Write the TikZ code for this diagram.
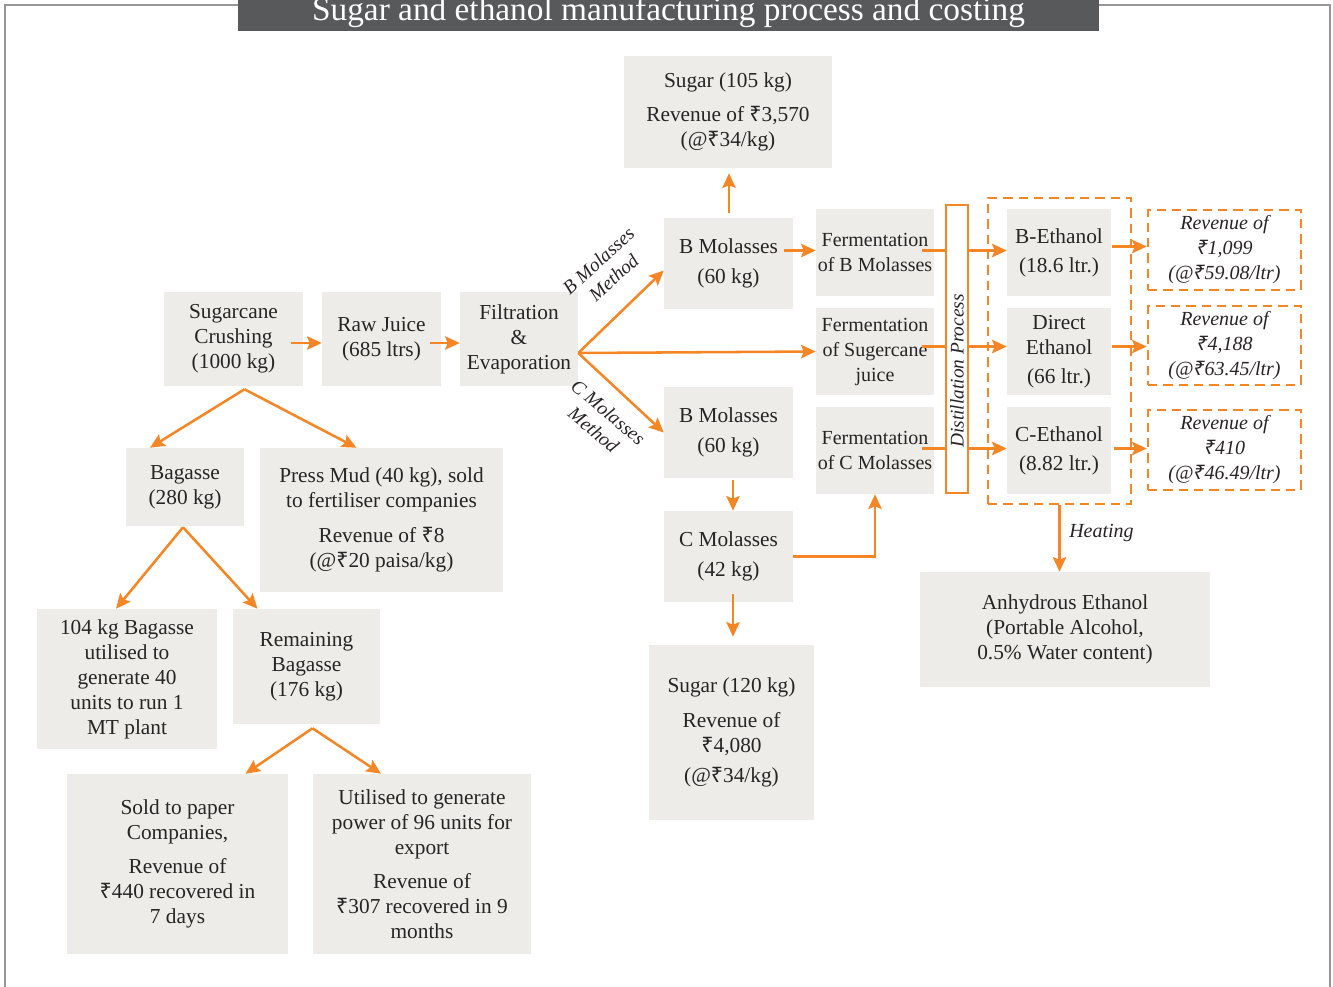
\documentclass[tikz,border=0pt]{standalone}
\usepackage{fontspec}
\setmainfont{Liberation Serif}
\newfontfamily\rupeefont{Noto Sans}
\newcommand\rupee{{\rupeefont ₹}}
\usetikzlibrary{arrows.meta,calc}
\definecolor{boxgray}{RGB}{237,236,232}
\definecolor{flow}{RGB}{245,134,37}
\definecolor{titlebar}{RGB}{88,89,91}
\definecolor{ink}{RGB}{40,36,37}
\definecolor{framegray}{RGB}{150,150,150}
\begin{document}
\begin{tikzpicture}[x=0.75pt,y=-0.75pt,
  box/.style n args={2}{fill=boxgray, text=ink, align=center, inner sep=0pt,
    minimum width=#1*0.75pt, minimum height=#2*0.75pt,
    font=\fontsize{16}{18.75}\selectfont},
  fermbox/.style={box={118}{87}, font=\fontsize{15}{18.75}\selectfont},
  revbox/.style n args={2}{draw=flow, line width=1.9pt, dash pattern=on 7pt off 4.5pt,
    text=ink, align=center, inner sep=0pt,
    minimum width=#1*0.75pt, minimum height=#2*0.75pt,
    font=\itshape\fontsize{15}{18.75}\selectfont},
  lbl/.style={text=ink, align=center, inner sep=0pt, font=\itshape\fontsize{14.5}{17}\selectfont},
  line/.style={draw=flow, line width=1.9pt},
  arr/.style={line, -{Stealth[length=11pt,width=10pt,inset=2pt]}}]
\useasboundingbox (0,0) rectangle (1333,986);
\clip (0,0) rectangle (1333,986);

% frame and title bar
\draw[framegray, line width=1pt] (238,5) -- (5,5) -- (5,995);
\draw[framegray, line width=1pt] (1099,5) -- (1330,5) -- (1330,995);
\fill[titlebar] (238,-20) rectangle (1099,31);
\node[anchor=base, text=white, inner sep=0pt, font=\fontsize{25}{25}\selectfont] (title) at (668.5,20)
  {Sugar and ethanol manufacturing process and costing};

% main line
\node[box={139}{94}] (crush) at (233.5,339) {Sugarcane\\Crushing\\(1000 kg)};
\node[box={119}{94}] (raw) at (381.5,339) {Raw Juice\\(685 ltrs)};
\node[box={118}{94}] (filt) at (519,339) {Filtration\\\&\\Evaporation};

% sugar and molasses
\node[box={208}{112}] (sugarA) at (728,112) {Sugar (105 kg)\\[7pt]Revenue of \rupee3,570\\(@\rupee34/kg)};
\node[box={129}{91}] (bmolA) at (728.5,263.5) {B Molasses\\[4pt](60 kg)};
\node[box={129}{91}] (bmolB) at (728.5,432.5) {B Molasses\\[4pt](60 kg)};
\node[box={129}{91}] (cmol) at (728.5,556.5) {C Molasses\\[4pt](42 kg)};
\node[box={165}{175}] (sugarB) at (731.5,732.5) {Sugar (120 kg)\\[7pt]Revenue of\\\rupee4,080\\[4pt](@\rupee34/kg)};

% fermentation
\node[fermbox] (fermB) at (875,252.5) {Fermentation\\of B Molasses};
\node[fermbox] (fermS) at (875,351.5) {Fermentation\\of Sugercane\\juice};
\node[fermbox] (fermC) at (875,450.5) {Fermentation\\of C Molasses};

% distillation
\node[draw=flow, line width=1.9pt, fill=white, inner sep=0pt,
  minimum width=22*0.75pt, minimum height=288*0.75pt] (dist) at (957,349) {};
\node[lbl, rotate=90, font=\itshape\fontsize{14.5}{15}\selectfont] (distlbl) at (957,371) {Distillation Process};

% ethanol
\node[draw=flow, line width=1.9pt, dash pattern=on 7pt off 4.5pt, inner sep=0pt,
  minimum width=143*0.75pt, minimum height=306*0.75pt] (grp) at (1059.5,351) {};
\node[box={104}{87}] (ethB) at (1059,252.5) {B-Ethanol\\[3pt](18.6 ltr.)};
\node[box={104}{87}] (ethD) at (1059,351.5) {Direct\\Ethanol\\[3pt](66 ltr.)};
\node[box={104}{87}] (ethC) at (1059,450.5) {C-Ethanol\\[3pt](8.82 ltr.)};

\node[revbox={153}{80}] (revB) at (1224.5,250) {Revenue of\\\rupee1,099\\(@\rupee59.08/ltr)};
\node[revbox={153}{79}] (revD) at (1224.5,345.5) {Revenue of\\\rupee4,188\\(@\rupee63.45/ltr)};
\node[revbox={153}{80}] (revC) at (1224.5,450) {Revenue of\\\rupee410\\(@\rupee46.49/ltr)};

\node[box={290}{115}] (anhy) at (1065,629.5) {Anhydrous Ethanol\\(Portable Alcohol,\\0.5\% Water content)};
\node[lbl, anchor=west, font=\itshape\fontsize{15}{15}\selectfont] (heat) at (1069,533) {Heating};

% by-products
\node[box={118}{78}] (bag) at (185,487) {Bagasse\\(280 kg)};
\node[box={243}{144}] (press) at (381.5,520) {Press Mud (40 kg), sold\\to fertiliser companies\\[7pt]Revenue of \rupee8\\(@\rupee20 paisa/kg)};
\node[box={180}{140}] (bag104) at (127,679) {104 kg Bagasse\\utilised to\\generate 40\\units to run 1\\MT plant};
\node[box={147}{115}] (rem) at (306.5,666.5) {Remaining\\Bagasse\\(176 kg)};
\node[box={221}{180}] (paper) at (177.5,864) {Sold to paper\\Companies,\\[7pt]Revenue of\\\rupee440 recovered in\\7 days};
\node[box={218}{180}] (util) at (422,864) {Utilised to generate\\power of 96 units for\\export\\[7pt]Revenue of\\\rupee307 recovered in 9\\months};

% method labels
\node[lbl, rotate=42] (bmeth) at (606,269) {B Molasses\\Method};
\node[lbl, rotate=-40] (cmeth) at (601,421) {C Molasses\\Method};

% connectors along the main line
\draw[arr] ($(crush.east)+(-12,4)$) -- (raw.west |- {$(crush.east)+(0,4)$});
\draw[arr] ($(raw.east)+(-11,4)$) -- (filt.west |- {$(raw.east)+(0,4)$});

\coordinate (fan) at ($(filt.east)+(0,14)$);
\draw[arr] (fan) -- ($(bmolA.west)+(0,7)$);
\draw[arr] (fan) -- (fermS.west);
\draw[arr] (fan) -- (bmolB.west);

\draw[arr] ($(bmolA.north)+(0.5,-5)$) -- ($(sugarA.south)+(1,5)$);
\coordinate (bmfb) at ($(bmolA.east)+(-9,-13)$);
\draw[arr] (bmfb) -- (bmfb -| fermB.west);
\draw[arr] ($(bmolB.south)+(4.5,2)$) -- ($(cmol.north)+(4.5,0)$);
\draw[arr] (cmol.east) -| (fermC.south);
\draw[arr] ($(cmol.south)+(4.5,-8)$) -- ($(sugarB.north)+(1.5,-8)$);

% fermentation into distillation, then ethanol
\draw[line] ($(fermB.east)+(-12,-2)$) -- (dist.west |- {$(fermB.east)+(0,-2)$});
\draw[line] ($(fermS.east)+(-12,-5)$) -- (dist.west |- {$(fermS.east)+(0,-5)$});
\draw[line] ($(fermC.east)+(-12,-2)$) -- (dist.west |- {$(fermC.east)+(0,-2)$});
\draw[arr] (dist.east |- {$(ethB.west)+(0,-2)$}) -- ($(ethB.west)+(0,-2)$);
\draw[arr] (dist.east |- {$(ethD.west)+(0,-5)$}) -- ($(ethD.west)+(0,-5)$);
\draw[arr] (dist.east |- {$(ethC.west)+(0,-2)$}) -- ($(ethC.west)+(0,-2)$);
\draw[arr] ($(ethB.east)+(1,-6)$) -- (revB.west |- {$(ethB.east)+(0,-6)$});
\draw[arr] ($(ethD.east)+(1,-5)$) -- (revD.west |- {$(ethD.east)+(0,-5)$});
\draw[arr] ($(ethC.east)+(3,-2)$) -- (revC.west |- {$(ethC.east)+(0,-2)$});
\draw[arr] (grp.south) -- (anhy.north -| grp.south);

% by-product branches
\coordinate (cs) at ($(crush.south)+(11,3)$);
\draw[arr] (cs) -- ($(bag.north)+(-35,0)$);
\draw[arr] (cs) -- ($(press.north)+(-25,0)$);
\coordinate (bs) at ($(bag.south)+(-2,1)$);
\draw[arr] (bs) -- ($(bag104.north)+(-11,0)$);
\draw[arr] (bs) -- ($(rem.north)+(-49,0)$);
\coordinate (rs) at ($(rem.south)+(6,4)$);
\draw[arr] (rs) -- ($(paper.north)+(68,0)$);
\draw[arr] (rs) -- ($(util.north)+(-41,0)$);
\end{tikzpicture}
\end{document}
